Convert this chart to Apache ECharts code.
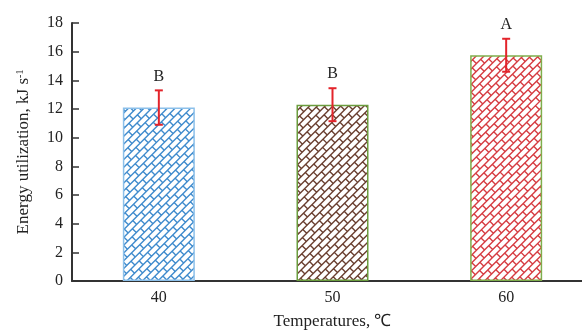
<!DOCTYPE html>
<html>
<head>
<meta charset="utf-8">
<script src="https://cdn.jsdelivr.net/npm/echarts@6/dist/echarts.min.js"></script>
<style>
  html, body { margin: 0; padding: 0; background: #fff; }
  #chart { width: 582px; height: 336px; }
</style>
</head>
<body>
<div id="chart"></div>
<script>
// ========== 数据 ==========
const temperatures = ["40", "50", "60"];
const energyMeans = [12.1, 12.3, 15.75];
const energyErrors = [1.2, 1.15, 1.15];
const groupLetters = ["B", "B", "A"];
const yTicks = [0, 2, 4, 6, 8, 10, 12, 14, 16, 18];

const hatchColors = ["#3f8bcd", "#6a3f30", "#d63c42"];
const borderColors = ["#8cc0ea", "#6b9d3e", "#7fae4c"];

// ========== 砖块填充 ==========
function brickPattern(color) {
  const c = document.createElement("canvas");
  c.width = 600;
  c.height = 340;
  const ctx = c.getContext("2d");
  ctx.strokeStyle = color;
  ctx.lineWidth = 1.4;
  ctx.translate(300, 170);
  ctx.rotate(-Math.PI / 4);
  const h = 5.5, w = 12, R = 520;
  ctx.beginPath();
  for (let k = -Math.ceil(R / h); k <= Math.ceil(R / h); k++) {
    const v = k * h;
    ctx.moveTo(-R, v);
    ctx.lineTo(R, v);
    const off = (Math.abs(k) % 2) * (w / 2);
    for (let u = -R + off; u < R; u += w) {
      ctx.moveTo(u, v);
      ctx.lineTo(u, v + h);
    }
  }
  ctx.stroke();
  return c;
}

const font = "'Liberation Serif', 'Times New Roman', serif";
const chart = echarts.init(document.getElementById("chart"));

chart.setOption({
  backgroundColor: "#fff",
  animation: false,
  grid: { left: 72, width: 521, top: 23, bottom: 55, outerBoundsMode: "none" },
  xAxis: {
    type: "category",
    data: temperatures,
    name: "Temperatures, ℃",
    nameLocation: "middle",
    nameGap: 32,
    nameTextStyle: { fontFamily: font, fontSize: 17, color: "#222" },
    axisLine: { lineStyle: { color: "#333", width: 2 } },
    axisTick: { inside: true, length: 6, lineStyle: { color: "#333", width: 1.5 } },
    axisLabel: { fontFamily: font, fontSize: 16, color: "#222", margin: 9 },
  },
  yAxis: {
    type: "value",
    min: 0,
    max: 18,
    interval: 2,
    name: "Energy utilization, kJ s{sup|-1}",
    nameLocation: "middle",
    nameGap: 39,
    nameTextStyle: {
      fontFamily: font,
      fontSize: 17,
      color: "#222",
      rich: { sup: { fontFamily: font, fontSize: 10, color: "#222", padding: [0, 0, 8, 0] } },
    },
    axisLine: { show: true, lineStyle: { color: "#333", width: 2 } },
    axisTick: { show: true, inside: true, length: 7, lineStyle: { color: "#333", width: 1.5 } },
    axisLabel: {
      fontFamily: font,
      fontSize: 16,
      color: "#222",
      margin: 9,
      formatter: (v) => (yTicks.includes(v) ? String(v) : ""),
    },
    splitLine: { show: false },
  },
  series: [
    {
      type: "bar",
      barWidth: 72,
      data: energyMeans.map((v, i) => ({
        value: v,
        itemStyle: {
          color: { image: brickPattern(hatchColors[i]), repeat: "repeat" },
          borderColor: borderColors[i],
          borderWidth: 1.5,
        },
      })),
    },
    {
      type: "custom",
      data: energyMeans.map((v, i) => [i, v, energyErrors[i]]),
      renderItem: (params, api) => {
        const i = api.value(0);
        const m = api.value(1);
        const e = api.value(2);
        const top = api.coord([i, m + e]);
        const bot = api.coord([i, m - e]);
        const cap = 4;
        const style = { stroke: "#e3242b", lineWidth: 2 };
        return {
          type: "group",
          children: [
            { type: "line", shape: { x1: top[0], y1: top[1], x2: bot[0], y2: bot[1] }, style },
            { type: "line", shape: { x1: top[0] - cap, y1: top[1], x2: top[0] + cap, y2: top[1] }, style },
            { type: "line", shape: { x1: bot[0] - cap, y1: bot[1], x2: bot[0] + cap, y2: bot[1] }, style },
            {
              type: "text",
              style: {
                text: groupLetters[params.dataIndex],
                x: top[0],
                y: top[1] - 6,
                align: "center",
                verticalAlign: "bottom",
                fontFamily: font,
                fontSize: 16,
                fill: "#222",
              },
            },
          ],
        };
      },
      z: 5,
    },
  ],
});

window.addEventListener("resize", () => chart.resize());
</script>
</body>
</html>
